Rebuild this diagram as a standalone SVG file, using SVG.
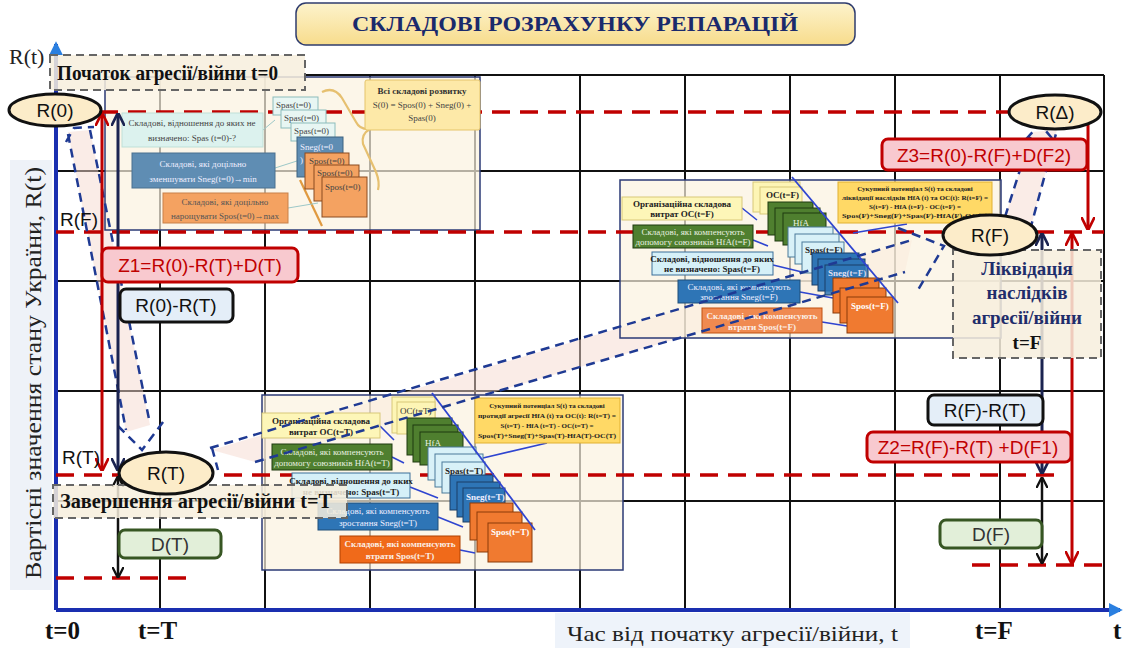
<svg xmlns="http://www.w3.org/2000/svg" width="1126" height="648" viewBox="0 0 1126 648">
<defs>
<linearGradient id="gTitle" x1="0" y1="0" x2="0" y2="1"><stop offset="0" stop-color="#fdf3cc"/><stop offset="1" stop-color="#f7dc8c"/></linearGradient>
<marker id="mRed" viewBox="0 0 10 10" refX="9" refY="5" markerWidth="4.5" markerHeight="4.5" orient="auto-start-reverse"><path d="M0,0 L10,5 L0,10" fill="none" stroke="#c00000" stroke-width="2"/></marker>
<marker id="mNavy" viewBox="0 0 10 10" refX="9" refY="5" markerWidth="4.5" markerHeight="4.5" orient="auto-start-reverse"><path d="M0,0 L10,5 L0,10" fill="none" stroke="#1b2350" stroke-width="2"/></marker>
<marker id="mBlack" viewBox="0 0 10 10" refX="9" refY="5" markerWidth="4.5" markerHeight="4.5" orient="auto-start-reverse"><path d="M0,0 L10,5 L0,10" fill="none" stroke="#111" stroke-width="2"/></marker>
<marker id="mAxis" viewBox="0 0 10 10" refX="8" refY="5" markerWidth="3.5" markerHeight="3.5" orient="auto"><path d="M0,0 L10,5 L0,10 z" fill="#2a7fe0"/></marker>
</defs>
<style>
.grid{stroke:#111;stroke-width:2}
.axis{stroke:#1a2fb0;stroke-width:4;fill:none}
.rdash{stroke:#c00000;stroke-width:3.5;stroke-dasharray:18 10;fill:none}
.bdash{stroke:#1f3a93;stroke-width:2.5;stroke-dasharray:9 6;fill:none}
.band{fill:#f6d9cf;opacity:.5}
.lbl{font-family:"Liberation Sans",Arial,sans-serif;font-size:19px}
.ser{font-family:"Liberation Serif","Times New Roman",serif}
.bold{font-weight:bold}
.sm{font-family:"Liberation Serif","Times New Roman",serif;font-size:9px}
.tiny{font-family:"Liberation Serif","Times New Roman",serif;font-size:7px;font-weight:bold;fill:#222}
.zbox{fill:#f8c9cf;stroke:#c00000;stroke-width:3}
.bbox{fill:#e4eef8;stroke:#111;stroke-width:3}
.gbox{fill:#e2efd9;stroke:#375623;stroke-width:3}
.ell{fill:#fcecc9;stroke:#111;stroke-width:3}
.dbox{fill:#f7efdd;fill-opacity:.85;stroke:#666;stroke-width:2;stroke-dasharray:8 5}
.panel{fill:#fbf2e0;fill-opacity:.7;stroke:#2b3a75;stroke-width:1.5}
.cOC{fill:#fdf5b5;stroke:#d8c878;stroke-width:1}
.cHfA{fill:#4f7f2f;stroke:#1f3a10;stroke-width:1}
.cSpas{fill:#d8f1f8;stroke:#4a7a9a;stroke-width:1}
.cSneg{fill:#2e75b6;stroke:#1a3f66;stroke-width:1}
.cSpos{fill:#f07a30;stroke:#8a3a08;stroke-width:1}
.gold{fill:#ffd966;stroke:#e0b030;stroke-width:1}
.conn{stroke:#2f45d0;stroke-width:1.6;fill:none}
</style>
<rect width="1126" height="648" fill="#ffffff"/>

<!-- axis label backgrounds -->
<rect x="10" y="160" width="42" height="430" fill="#eef2f8"/>
<rect x="555" y="613" width="355" height="35" fill="#eef3fa"/>

<g id="grid" class="grid">
<line x1="305" y1="75" x2="1104" y2="75"/>
<line x1="56" y1="171" x2="1104" y2="171"/>
<line x1="56" y1="281" x2="1104" y2="281"/>
<line x1="56" y1="391" x2="1104" y2="391"/>
<line x1="56" y1="501" x2="1104" y2="501"/>
<line x1="160" y1="75" x2="160" y2="610"/>
<line x1="265" y1="75" x2="265" y2="610"/>
<line x1="370" y1="75" x2="370" y2="610"/>
<line x1="475" y1="75" x2="475" y2="610"/>
<line x1="580" y1="75" x2="580" y2="610"/>
<line x1="685" y1="75" x2="685" y2="610"/>
<line x1="790" y1="75" x2="790" y2="610"/>
<line x1="895" y1="75" x2="895" y2="610"/>
<line x1="1000" y1="75" x2="1000" y2="610"/>
<line x1="1104" y1="75" x2="1104" y2="610"/>
</g>

<g id="axes">
<line class="axis" x1="56" y1="610" x2="56" y2="44" marker-end="url(#mAxis)"/>
<line class="axis" x1="56" y1="610" x2="1120" y2="610" marker-end="url(#mAxis)"/>
</g>

<!-- transition band fills -->
<g id="band-fills">
<polygon class="band" points="68,132 90,130 150,425 126,432"/>
<polygon class="band" points="212,450 912,240 905,272 255,462"/>
<polygon class="band" points="1005,217 1032,132 1057,130 1030,230"/>
</g>

<!-- panel backgrounds -->
<rect class="panel" x="105" y="77" width="375" height="153"/>
<rect class="panel" x="620" y="180" width="381" height="158"/>
<rect class="panel" x="262" y="395" width="361" height="175"/>

<g id="levels">
<line class="rdash" x1="100" y1="112" x2="1010" y2="112"/>
<line class="rdash" x1="56" y1="232" x2="1104" y2="232"/>
<line class="rdash" x1="56" y1="475" x2="1062" y2="475"/>
<line class="rdash" x1="56" y1="578" x2="186" y2="578"/>
<line class="rdash" x1="972" y1="565" x2="1104" y2="565"/>
</g>

<!-- Panel t=0 -->
<g id="panel-t0">
<path d="M322,92 Q334,86 342,98 L356,122 Q360,130 370,129 Q361,134 363,144 L376,172 Q380,182 378,190" fill="none" stroke="#e6c070" stroke-width="2.2"/>
<path d="M300,180 L322,226" fill="none" stroke="#e09a40" stroke-width="2.2"/>
<path d="M288,208 L318,203 M275,168 L300,160 M263,130 L275,120" fill="none" stroke="#9cc8c8" stroke-width="1"/>
<rect x="122" y="113" width="141" height="34" fill="#dcf2ee" stroke="#bfe0d8"/>
<text class="sm" x="192" y="126" text-anchor="middle" fill="#444">Складові, відношення до яких не</text>
<text class="sm" x="192" y="141" text-anchor="middle" fill="#444">визначено: Spas (t=0)-?</text>
<rect x="132" y="153" width="143" height="35" fill="#5f8db3" stroke="#4a7090"/>
<text class="sm" x="203" y="167" text-anchor="middle" fill="#eef">Складові, які доцільно</text>
<text class="sm" x="203" y="182" text-anchor="middle" fill="#eef">зменшувати  Sneg(t=0)→min</text>
<rect x="163" y="193" width="125" height="30" fill="#f4a261" stroke="#c8804a"/>
<text class="sm" x="225" y="205" text-anchor="middle" fill="#555">Складові, які доцільно</text>
<text class="sm" x="225" y="219" text-anchor="middle" fill="#555">нарощувати Spos(t=0)→max</text>
<rect x="273" y="97" width="45" height="18" fill="#e8f6f3" stroke="#8cbcbc"/>
<text class="sm" x="276" y="108" fill="#444">Spas(t=0)</text>
<rect x="281" y="110" width="45" height="18" fill="#e8f6f3" stroke="#8cbcbc"/>
<text class="sm" x="284" y="121" fill="#444">Spas(t=0)</text>
<rect x="291" y="123" width="44" height="18" fill="#e8f6f3" stroke="#8cbcbc"/>
<text class="sm" x="294" y="134" fill="#444">Spas(t=0)</text>
<rect x="297" y="137" width="46" height="40" fill="#5f8db3" stroke="#3d6280"/>
<text class="sm" x="300" y="150" fill="#eef">Sneg(t=0</text>
<text class="sm" x="300" y="163" fill="#eef">)</text>
<rect x="305" y="153" width="44" height="36" fill="#f4a261" stroke="#8a4a20"/>
<text class="sm" x="309" y="164" fill="#444">Spos(t=0)</text>
<rect x="314" y="165" width="45" height="36" fill="#f4a261" stroke="#8a4a20"/>
<text class="sm" x="317" y="176" fill="#444">Spos(t=0)</text>
<rect x="322" y="177" width="45" height="40" fill="#f4a261" stroke="#8a4a20"/>
<text class="sm" x="325" y="190" fill="#444">Spos(t=0)</text>
<rect x="365" y="80" width="115" height="50" rx="2" fill="#fde9a8" stroke="#e5c46a"/>
<text class="sm bold" x="422" y="94" text-anchor="middle" fill="#333" font-size="8.5">Всі складові розвитку</text>
<text class="sm" x="422" y="108" text-anchor="middle" fill="#444">S(0) = Spos(0) + Sneg(0) +</text>
<text class="sm" x="422" y="121" text-anchor="middle" fill="#444">Spas(0)</text>
</g>

<!-- Panel t=F -->
<g id="panel-tF">
<path class="conn" d="M742,208 L757,220 M753,240 L768,246 M773,265 L802,272 M800,292 L833,298 M822,322 L847,326 M853,233 L907,224"/>
<rect x="753" y="182" width="47" height="30" class="cOC"/>
<rect x="760" y="187" width="42" height="27" class="cOC"/>
<text class="sm bold" x="766" y="198" fill="#222">OC(t=F)</text>
<rect x="768" y="202" width="45" height="33" class="cHfA"/>
<rect x="775" y="208" width="45" height="33" class="cHfA"/>
<rect x="783" y="213" width="43" height="32" class="cHfA"/>
<text class="sm" x="793" y="226" fill="#e8f2e0" font-size="11">HfA</text>
<text class="sm" x="788" y="239" fill="#e8f2e0">(</text>
<rect x="788" y="227" width="45" height="30" class="cSpas"/>
<rect x="795" y="234" width="44" height="30" class="cSpas"/>
<rect x="802" y="242" width="42" height="31" class="cSpas"/>
<text class="sm bold" x="805" y="253" fill="#222" font-size="8">Spas(t=F)</text>
<rect x="812" y="253" width="47" height="32" class="cSneg"/>
<rect x="818" y="259" width="47" height="32" class="cSneg"/>
<rect x="825" y="265" width="43" height="30" class="cSneg" fill-opacity=".85"/>
<text class="sm bold" x="828" y="276" fill="#dde" font-size="8">Sneg(t=F)</text>
<rect x="833" y="278" width="46" height="35" class="cSpos"/>
<rect x="840" y="288" width="46" height="35" class="cSpos"/>
<rect x="847" y="297" width="46" height="36" class="cSpos"/>
<text class="sm bold" x="851" y="309" fill="#fff" font-size="8">Spos(t=F)</text>
<line x1="792" y1="177" x2="898" y2="303" stroke="#2f45d0" stroke-width="1.8"/>
<rect x="622" y="197" width="120" height="23" fill="#fdf6b8" stroke="#d8c878"/>
<text class="sm bold" x="682" y="207" text-anchor="middle" fill="#222" font-size="8.5">Організаційна складова</text>
<text class="sm bold" x="682" y="217" text-anchor="middle" fill="#222" font-size="8.5">витрат OC(t=F)</text>
<rect x="633" y="225" width="120" height="23" fill="#4f7f2f" stroke="#1f3a10"/>
<text class="sm" x="693" y="235" text-anchor="middle" fill="#e8f0e0" font-size="8.5">Складові, які компенсують</text>
<text class="sm" x="693" y="245" text-anchor="middle" fill="#e8f0e0" font-size="8.5">допомогу союзників HfA(t=F)</text>
<rect x="652" y="252" width="121" height="23" fill="#d5f0f8" stroke="#3a6f9a"/>
<text class="sm bold" x="712" y="262" text-anchor="middle" fill="#222" font-size="8.5">Складові, відношення до яких</text>
<text class="sm bold" x="712" y="272" text-anchor="middle" fill="#222" font-size="8.5">не визначено: Spas(t=F)</text>
<rect x="678" y="280" width="122" height="23" fill="#2e75b6" stroke="#1f4e79"/>
<text class="sm" x="739" y="290" text-anchor="middle" fill="#eef" font-size="8.5">Складові, які компенсують</text>
<text class="sm" x="739" y="300" text-anchor="middle" fill="#eef" font-size="8.5">зростання Sneg(t=F)</text>
<rect x="702" y="308" width="120" height="25" fill="#f08a50" stroke="#c05010"/>
<text class="sm bold" x="762" y="319" text-anchor="middle" fill="#fbeee6" font-size="8.5">Складові, які компенсують</text>
<text class="sm bold" x="762" y="330" text-anchor="middle" fill="#fbeee6" font-size="8.5">втрати Spos(t=F)</text>
<rect x="838" y="182" width="154" height="41" class="gold"/>
<text class="tiny" x="915" y="191" text-anchor="middle">Сукупний потенціал S(t) та складові</text>
<text class="tiny" x="915" y="200" text-anchor="middle" textLength="146" lengthAdjust="spacingAndGlyphs">ліквідації наслідків HfA (t) та OC(t): R(t=F) =</text>
<text class="tiny" x="915" y="209" text-anchor="middle">S(t=F) - HfA (t=F) - OC(t=F) =</text>
<text class="tiny" x="915" y="218" text-anchor="middle" textLength="146" lengthAdjust="spacingAndGlyphs">Spos(F)+Sneg(F)+Spas(F)-HfA(F)-OC(F)</text>
</g>

<!-- Panel t=T -->
<g id="panel-tT">
<path class="conn" d="M380,426 L394,440 M392,457 L404,463 M410,487 L438,498 M438,517 L463,527 M460,550 L475,553 M483,458 L547,443"/>
<rect x="392" y="397" width="43" height="36" class="cOC"/>
<rect x="397" y="402" width="38" height="32" class="cOC"/>
<text class="sm" x="400" y="414" fill="#333" font-size="8">OC(t=T)</text>
<rect x="407" y="418" width="45" height="37" class="cHfA"/>
<rect x="413" y="425" width="45" height="37" class="cHfA"/>
<rect x="420" y="432" width="43" height="33" class="cHfA"/>
<text class="sm" x="425" y="446" fill="#e8f2e0" font-size="11">HfA</text>
<rect x="428" y="447" width="48" height="33" class="cSpas"/>
<rect x="435" y="454" width="48" height="33" class="cSpas"/>
<rect x="442" y="462" width="43" height="31" class="cSpas"/>
<text class="sm bold" x="445" y="474" fill="#222" font-size="8">Spas(t=T)</text>
<rect x="450" y="475" width="43" height="35" class="cSneg"/>
<rect x="457" y="482" width="43" height="35" class="cSneg"/>
<rect x="463" y="488" width="42" height="34" class="cSneg"/>
<text class="sm bold" x="466" y="500" fill="#eef" font-size="8">Sneg(t=T)</text>
<rect x="470" y="503" width="43" height="37" class="cSpos"/>
<rect x="477" y="512" width="45" height="40" class="cSpos"/>
<rect x="488" y="523" width="44" height="39" class="cSpos"/>
<text class="sm bold" x="491" y="535" fill="#fff" font-size="8">Spos(t=T)</text>
<line x1="432" y1="393" x2="535" y2="530" stroke="#2f45d0" stroke-width="1.8"/>
<rect x="262" y="413" width="118" height="25" fill="#fdf6b8" stroke="#d8c878"/>
<text class="sm bold" x="321" y="424" text-anchor="middle" fill="#222" font-size="8.5">Організаційна складова</text>
<text class="sm bold" x="321" y="435" text-anchor="middle" fill="#222" font-size="8.5">витрат OC(t=T)</text>
<rect x="272" y="444" width="120" height="26" fill="#4f7f2f" stroke="#1f3a10"/>
<text class="sm" x="332" y="455" text-anchor="middle" fill="#e8f0e0" font-size="8.5">Складові, які компенсують</text>
<text class="sm" x="332" y="466" text-anchor="middle" fill="#e8f0e0" font-size="8.5">допомогу союзників HfA(t=T)</text>
<rect x="292" y="473" width="118" height="25" fill="#d5f0f8" stroke="#3a6f9a"/>
<text class="sm bold" x="351" y="484" text-anchor="middle" fill="#222" font-size="8.5">Складові, відношення до яких</text>
<text class="sm bold" x="351" y="495" text-anchor="middle" fill="#222" font-size="8.5">не визначено: Spas(t=T)</text>
<rect x="318" y="503" width="120" height="27" fill="#2e75b6" stroke="#1f4e79"/>
<text class="sm" x="378" y="514" text-anchor="middle" fill="#eef" font-size="8.5">Складові, які компенсують</text>
<text class="sm" x="378" y="526" text-anchor="middle" fill="#eef" font-size="8.5">зростання Sneg(t=T)</text>
<rect x="340" y="536" width="120" height="27" fill="#f06a1a" stroke="#b04000"/>
<text class="sm bold" x="400" y="547" text-anchor="middle" fill="#fbeee6" font-size="8.5">Складові, які компенсують</text>
<text class="sm bold" x="400" y="559" text-anchor="middle" fill="#fbeee6" font-size="8.5">втрати Spos(t=T)</text>
<rect x="475" y="398" width="145" height="45" class="gold"/>
<text class="tiny" x="547" y="408" text-anchor="middle">Сукупний потенціал S(t) та складові</text>
<text class="tiny" x="547" y="418" text-anchor="middle" textLength="138" lengthAdjust="spacingAndGlyphs">протидії агресії HfA (t) та OC(t): R(t=T) =</text>
<text class="tiny" x="547" y="428" text-anchor="middle">S(t=T) - HfA (t=T) - OC(t=T) =</text>
<text class="tiny" x="547" y="438" text-anchor="middle" textLength="138" lengthAdjust="spacingAndGlyphs">Spos(T)+Sneg(T)+Spas(T)-HfA(T)-OC(T)</text>
</g>

<!-- dashed transition outlines drawn over the panels -->
<g id="band-outlines">
<path class="bdash" d="M68,134 L126,430 M90,130 L150,424 M118,426 L142,450 L166,418 M66,142 L74,128 L94,127"/>
<path class="bdash" d="M210,448 L912,240 M255,462 L905,272 M898,228 L944,246 L918,290 M212,448 L218,470"/>
<path class="bdash" d="M1005,217 L1032,132 M1030,230 L1057,130 M1016,150 L1040,124 L1062,150 M1007,218 L1032,230"/>
</g>

<g id="connectors">
<line x1="102" y1="114" x2="102" y2="470" stroke="#c00000" stroke-width="3" marker-start="url(#mRed)" marker-end="url(#mRed)"/>
<line x1="118" y1="114" x2="118" y2="470" stroke="#1b2350" stroke-width="3" marker-start="url(#mNavy)" marker-end="url(#mNavy)"/>
<line x1="118" y1="477" x2="118" y2="577" stroke="#111" stroke-width="2.5" marker-start="url(#mBlack)" marker-end="url(#mBlack)"/>
<line x1="1088" y1="110" x2="1088" y2="229" stroke="#c00000" stroke-width="3" marker-start="url(#mRed)" marker-end="url(#mRed)"/>
<line x1="1072" y1="234" x2="1072" y2="563" stroke="#c00000" stroke-width="3" marker-start="url(#mRed)" marker-end="url(#mRed)"/>
<line x1="1042" y1="234" x2="1042" y2="473" stroke="#1b2350" stroke-width="3" marker-start="url(#mNavy)" marker-end="url(#mNavy)"/>
<line x1="1042" y1="478" x2="1042" y2="563" stroke="#111" stroke-width="2.5" marker-start="url(#mBlack)" marker-end="url(#mBlack)"/>
</g>

<g id="title">
<rect x="296" y="3" width="559" height="42" rx="10" fill="url(#gTitle)" stroke="#2f3c6e" stroke-width="1.5"/>
<text class="ser bold" x="575" y="31" text-anchor="middle" font-size="20" fill="#1a2a6c" textLength="446" lengthAdjust="spacingAndGlyphs">СКЛАДОВІ  РОЗРАХУНКУ  РЕПАРАЦІЙ</text>
</g>

<g id="axis-labels">
<text class="ser" x="9" y="64" font-size="22" fill="#222">R(t)</text>
<text class="ser" transform="translate(41,373) rotate(-90)" text-anchor="middle" font-size="23" fill="#222" textLength="412" lengthAdjust="spacingAndGlyphs">Вартісні значення стану України, R(t)</text>
<text class="ser" x="567" y="641" font-size="21" fill="#222" textLength="331" lengthAdjust="spacingAndGlyphs">Час від початку агресії/війни, t</text>
<text class="ser bold" x="45" y="639" font-size="25" fill="#111">t=0</text>
<text class="ser bold" x="138" y="639" font-size="25" fill="#111">t=T</text>
<text class="ser bold" x="975" y="639" font-size="25" fill="#111">t=F</text>
<text class="ser bold" x="1113" y="639" font-size="25" fill="#111">t</text>
<text class="lbl" x="60" y="226" font-size="18" fill="#111">R(F)</text>
<text class="lbl" x="62" y="464" font-size="18" fill="#111">R(T)</text>
</g>

<g id="start-box">
<rect class="dbox" x="50" y="55" width="255" height="35"/>
<text class="ser bold" x="57" y="80" font-size="20" fill="#111" textLength="221" lengthAdjust="spacingAndGlyphs">Початок агресії/війни t=0</text>
</g>
<g id="end-box">
<rect class="dbox" x="53" y="485" width="294" height="33"/>
<text class="ser bold" x="60" y="508" font-size="20" fill="#111" textLength="272" lengthAdjust="spacingAndGlyphs">Завершення агресії/війни t=T</text>
</g>
<g id="liquidation-box">
<rect class="dbox" x="953" y="250" width="148" height="108"/>
<text class="ser bold" x="1027" y="275" text-anchor="middle" font-size="19" fill="#1f2d6b">Ліквідація</text>
<text class="ser bold" x="1027" y="299" text-anchor="middle" font-size="19" fill="#1f2d6b">наслідків</text>
<text class="ser bold" x="1027" y="324" text-anchor="middle" font-size="19" fill="#1f2d6b">агресії/війни</text>
<text class="ser bold" x="1027" y="349" text-anchor="middle" font-size="19" fill="#111">t=F</text>
</g>

<g id="Z1"><rect class="zbox" x="102" y="248" width="196" height="34" rx="6"/><text class="lbl" x="200" y="272" text-anchor="middle" fill="#c00000">Z1=R(0)-R(T)+D(T)</text></g>
<g id="R0-RT"><rect class="bbox" x="120" y="289" width="113" height="33" rx="6"/><text class="lbl" x="176" y="312" text-anchor="middle" fill="#111">R(0)-R(T)</text></g>
<g id="DT"><rect class="gbox" x="119" y="530" width="102" height="28" rx="6"/><text class="lbl" x="170" y="551" text-anchor="middle" fill="#333">D(T)</text></g>
<g id="Z3"><rect class="zbox" x="882" y="139" width="205" height="31" rx="6"/><text class="lbl" x="984" y="162" text-anchor="middle" fill="#c00000">Z3=R(0)-R(F)+D(F2)</text></g>
<g id="RF-RT"><rect class="bbox" x="928" y="395" width="115" height="30" rx="6"/><text class="lbl" x="985" y="417" text-anchor="middle" fill="#111">R(F)-R(T)</text></g>
<g id="Z2"><rect class="zbox" x="867" y="432" width="204" height="30" rx="6"/><text class="lbl" x="968" y="454" text-anchor="middle" fill="#c00000">Z2=R(F)-R(T) +D(F1)</text></g>
<g id="DF"><rect class="gbox" x="940" y="520" width="102" height="28" rx="6"/><text class="lbl" x="991" y="541" text-anchor="middle" fill="#333">D(F)</text></g>

<g id="R0"><ellipse class="ell" cx="55" cy="110" rx="46" ry="16"/><text class="lbl" x="55" y="117" text-anchor="middle" fill="#111">R(0)</text></g>
<g id="RDelta"><ellipse class="ell" cx="1055" cy="112" rx="46" ry="17"/><text class="lbl" x="1055" y="119" text-anchor="middle" fill="#111">R(Δ)</text></g>
<g id="RF"><ellipse class="ell" cx="990" cy="235" rx="47" ry="20"/><text class="lbl" x="990" y="242" text-anchor="middle" fill="#111">R(F)</text></g>
<g id="RT"><ellipse class="ell" cx="166" cy="473" rx="47" ry="21"/><text class="lbl" x="166" y="480" text-anchor="middle" fill="#111">R(T)</text></g>
</svg>
